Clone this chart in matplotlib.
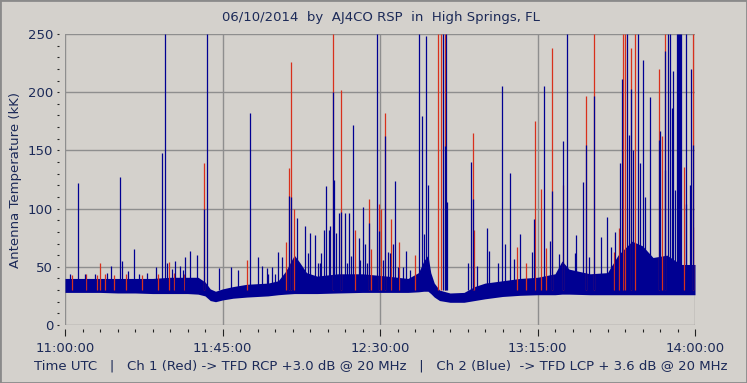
import matplotlib
matplotlib.use('Agg')
import matplotlib.pyplot as plt
from matplotlib.ticker import MultipleLocator, FuncFormatter
from matplotlib.patches import Rectangle

# Time axis is minutes after 11:00:00 UTC
# Background band (noise floor)
band_t = [0, 5, 10, 15, 20, 25, 30, 35, 38, 40, 41.5, 43, 45, 48, 52, 58, 60.9, 63, 65.5, 67,
          69, 72, 78, 85, 92, 98, 101, 102.5, 103.7, 104.5, 105.5, 107, 110, 114, 117, 120,
          125, 130, 135, 140, 142, 144, 150, 155, 158, 162, 165, 168, 172, 176, 180]
blue_lo = [28, 28, 28, 27.5, 27.5, 27, 27, 27, 26.5, 25, 21, 20, 21.5, 23, 24, 25, 26, 26.5, 27, 27,
           27, 27, 27.5, 28, 28, 28, 28.5, 29, 29, 27, 24, 21, 19.5, 19.5, 21, 22.5,
           24.5, 25.5, 26, 26, 26.5, 26.5, 26, 26, 26, 26, 26, 26, 26, 26, 26]
blue_hi = [40, 40, 40, 40, 40, 40, 41, 41, 41, 37, 31, 29, 31, 33, 35, 36, 38, 46, 60, 54,
           45, 42, 44, 44, 42, 40, 45, 55, 60, 45, 36, 30, 27.5, 28, 33, 36,
           38, 40, 41, 44, 55, 48, 44, 45, 60, 72, 68, 58, 60, 52, 52]

# Ch 2 (blue) bursts: time (min), peak (kK)
blue_t = [1.5, 3.8, 5.8, 8.6, 12.0, 13.2, 15.8, 16.4, 18.0, 19.8, 21.2, 23.5, 26.0, 27.8, 28.7,
          29.2, 30.5, 31.5, 32.9, 33.6, 34.4, 35.8, 37.8, 39.8, 40.7, 44.1, 47.4, 49.5, 52.9,
          55.2, 56.4, 57.6, 58.1, 59.1, 60.0, 60.9, 62.1, 63.9, 64.7, 66.4, 68.7, 69.5, 70.1,
          71.4, 72.4, 72.9, 73.2, 74.0, 74.7, 75.3, 75.8, 76.7, 76.9, 77.5, 78.2, 78.9, 79.9,
          80.5, 81.1, 81.8, 82.4, 83.9, 84.3, 85.0, 85.6, 86.2, 86.8, 89.0, 89.8, 90.9, 91.3,
          92.3, 92.9, 93.7, 94.4, 95.2, 96.7, 97.5, 98.6, 101.0, 102.1, 102.6, 103.2, 103.7,
          108.1, 108.5, 108.9, 109.2, 115.1, 116.1, 116.5, 117.7, 120.6, 121.1, 123.8, 124.9,
          125.6, 127.2, 128.4, 130.0, 133.4, 134.1, 136.9, 138.7, 139.2, 141.1, 142.4, 143.5,
          145.8, 146.0, 148.1, 148.9, 149.6, 151.2, 153.2, 154.9, 155.9, 157.2, 158.7, 159.2,
          160.7, 161.1, 161.6, 162.2, 163.6, 164.4, 165.1, 165.8, 167.2, 169.6, 170.1, 171.4,
          171.5, 172.2, 172.9, 173.5, 173.6, 174.4, 174.9, 175.1, 175.4, 175.7, 176.0, 177.4,
          177.5, 178.7, 178.9, 179.4]
blue_v = [44, 122, 44, 44, 45, 51, 127, 55, 46, 65, 44, 45, 50, 148, 250,
          53, 48, 55, 51, 47, 58, 64, 60, 100, 250, 49, 50, 47, 182,
          58, 51, 49, 44, 50, 43.5, 63, 58, 111, 110, 92, 85, 61.6, 79,
          77, 53, 53, 62, 82, 119, 82, 85, 200, 125, 79, 96, 97, 96,
          53, 96, 59, 172, 75, 56, 101, 70, 53, 88, 250, 81, 56, 162,
          63, 61.5, 70, 124, 50, 50, 64, 47, 250, 179.5, 78, 248, 120,
          250, 154, 250, 106, 53, 140, 108, 51, 83, 64, 53, 205,
          70, 131, 57, 78, 63, 91, 205, 72, 115, 61, 158, 250,
          62, 77, 123, 155, 58, 197, 76, 93, 67, 80, 139, 211,
          250, 163, 203, 150, 250, 139, 228, 110, 196, 159, 167, 235,
          133, 250, 250, 186, 218, 116, 250, 250, 250, 250, 250, 250,
          104, 120, 220, 155]

# Ch 1 (red) bursts
red_t = [2.0, 6.0, 9.0, 10.1, 11.5, 14.0, 17.5, 22.0, 26.5, 29.8, 31.0, 34.0, 39.8, 52.1, 63.2,
         63.9, 64.7, 65.5, 76.7, 78.9, 82.9, 86.8, 87.5, 89.8, 90.4, 91.3, 93.1, 95.3, 99.9,
         106.7, 107.4, 108.6, 116.5, 116.9, 129.1, 131.7, 134.4, 136.1, 137.4, 139.2, 142.4,
         148.9, 151.2, 156.9, 158.2, 159.5, 160.0, 161.6, 162.9, 169.6, 170.6, 171.3, 176.8,
         179.3, 179.9]
red_v = [43, 44, 43, 53.5, 44, 43, 44, 43, 44, 54, 45, 44, 139, 56, 71,
         135, 226, 100, 250, 202, 82, 108, 65, 104, 100, 182, 91, 71, 60,
         250, 250, 250, 165, 82, 67, 53, 175, 117, 66, 238, 120,
         197, 250, 63, 83, 250, 250, 238, 250, 220, 162, 250, 136,
         250, 84]

RED = '#d8301c'
BLUE = '#000092'
BG = '#d4d1cc'
TXT = '#1c2a58'

fig = plt.figure(figsize=(7.47, 3.83), dpi=100, facecolor=BG)
ax = fig.add_axes([65 / 747, 58 / 383, 630 / 747, 291 / 383], facecolor=BG)

# red channel first, blue drawn on top of it
ax.vlines(red_t, 30, red_v, colors=RED, lw=0.9)
ax.fill_between(band_t, blue_lo, blue_hi, color=BLUE, lw=0)
ax.vlines(blue_t, 30, blue_v, colors=BLUE, lw=0.9)

ax.set_xlim(0, 180)
ax.set_ylim(0, 250)

def hms(m, pos=None):
    m = int(round(m))
    return '%02d:%02d:00' % (11 + m // 60, m % 60)

ax.xaxis.set_major_locator(MultipleLocator(45))
ax.xaxis.set_minor_locator(MultipleLocator(5))
ax.xaxis.set_major_formatter(FuncFormatter(hms))
ax.yaxis.set_major_locator(MultipleLocator(50))
ax.yaxis.set_minor_locator(MultipleLocator(10))

ax.grid(True, which='major', color='#8e8e8e', lw=1)
ax.set_axisbelow(True)
for s in ax.spines.values():
    s.set_visible(False)
ax.spines['left'].set_position(('outward', 4))
ax.spines['bottom'].set_position(('outward', 3))

ax.tick_params(axis='y', which='both', direction='out', length=1.6, width=0.8,
               color='#222222', labelcolor=TXT, labelsize=9.5, pad=3)
ax.tick_params(axis='x', which='major', direction='out', length=5, width=0.8,
               color='#222222', labelcolor=TXT, labelsize=9.5, pad=4)
ax.tick_params(axis='x', which='minor', direction='out', length=2, width=0.8, color='#222222')

ax.set_ylabel('Antenna Temperature (kK)', color=TXT, fontsize=9.5, labelpad=4)

fig.text(381 / 747, 1 - 18 / 383, '06/10/2014  by  AJ4CO RSP  in  High Springs, FL',
         ha='center', va='center', color=TXT, fontsize=9.5)
fig.text(381 / 747, 1 - 366 / 383,
         'Time UTC   |   Ch 1 (Red) -> TFD RCP +3.0 dB @ 20 MHz   |   '
         'Ch 2 (Blue)  -> TFD LCP + 3.6 dB @ 20 MHz',
         ha='center', va='center', color=TXT, fontsize=9.5)

# window frame
fig.patches.append(Rectangle((0, 0), 1, 1, transform=fig.transFigure, fill=False,
                             edgecolor='#8a8a8a', lw=2))

fig.savefig('out.png', dpi=100, facecolor=BG)
